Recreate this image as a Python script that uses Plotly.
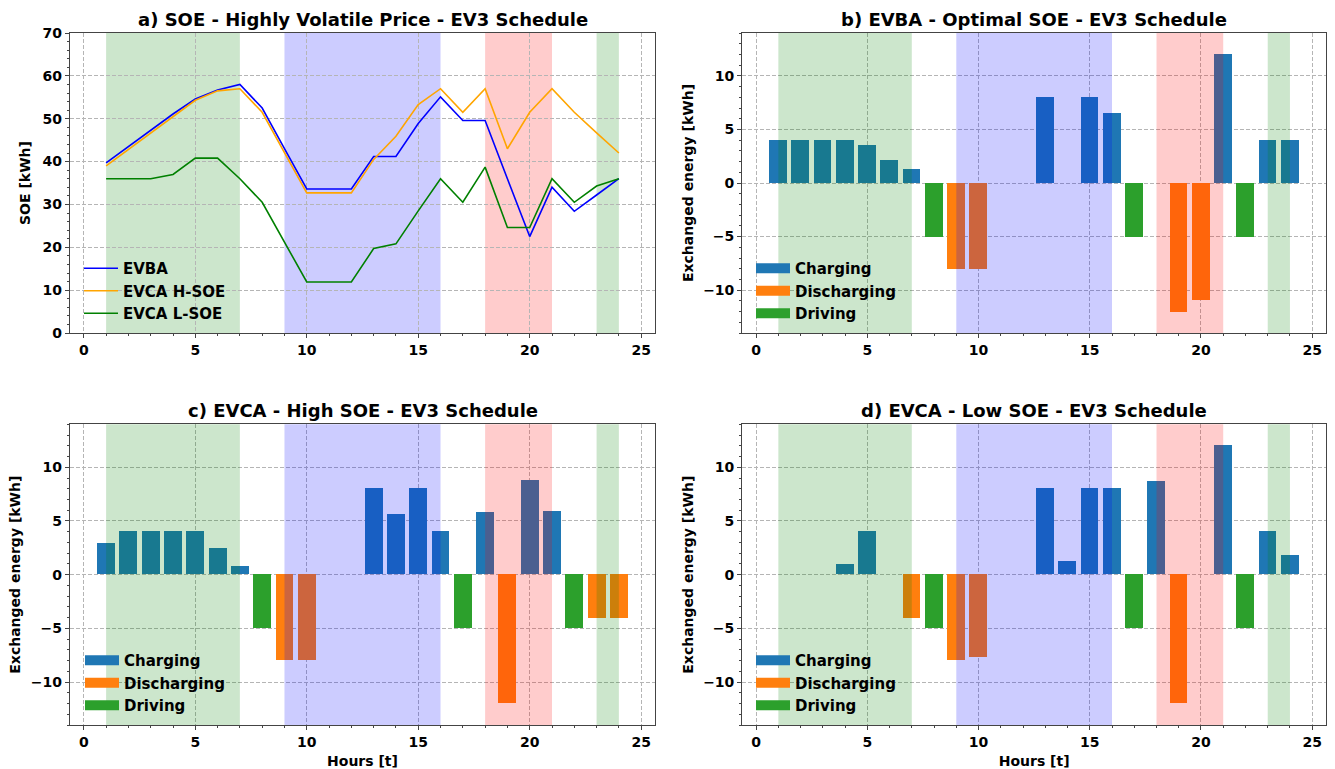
import plotly.graph_objects as go

# ---------------- data ----------------
hours = list(range(1, 25))

evba_soe = [39.7, 43.5, 47.3, 51.1, 54.6, 56.7, 58.0, 52.5, 43.0, 33.6, 33.6, 33.6,
            41.2, 41.2, 48.9, 55.1, 49.6, 49.6, 36.0, 22.5, 34.0, 28.4, 32.2, 36.0]
evca_h_soe = [39.0, 42.8, 46.6, 50.3, 54.3, 56.5, 57.0, 51.5, 42.1, 32.7, 32.7, 32.7,
              40.5, 45.9, 53.3, 57.0, 51.5, 57.0, 43.0, 51.5, 57.0, 51.5, 46.7, 42.0]
evca_l_soe = [36.0, 36.0, 36.0, 37.0, 40.8, 40.8, 36.0, 30.5, 21.2, 11.9, 11.9, 11.9,
              19.7, 20.8, 28.5, 36.0, 30.5, 38.7, 24.6, 24.6, 36.0, 30.5, 34.3, 36.0]

driving = [0, 0, 0, 0, 0, 0, 0, -5, 0, 0, 0, 0,
           0, 0, 0, 0, -5, 0, 0, 0, 0, -5, 0, 0]

b_charging = [4, 4, 4, 4, 3.55, 2.17, 1.33, 0, 0, 0, 0, 0,
              8, 0, 8, 6.55, 0, 0, 0, 0, 12.05, 0, 4, 4]
b_discharging = [0, 0, 0, 0, 0, 0, 0, 0, -8, -8, 0, 0,
                 0, 0, 0, 0, 0, 0, -12.05, -10.95, 0, 0, 0, 0]

c_charging = [2.95, 4, 4, 4, 4, 2.41, 0.74, 0, 0, 0, 0, 0,
              8, 5.63, 8, 4, 0, 5.85, 0, 8.8, 5.94, 0, 0, 0]
c_discharging = [0, 0, 0, 0, 0, 0, 0, 0, -8, -8, 0, 0,
                 0, 0, 0, 0, 0, 0, -12, 0, 0, 0, -4.05, -4.05]

d_charging = [0, 0, 0, 0.93, 4, 0, 0, 0, 0, 0, 0, 0,
              8, 1.27, 8, 8, 0, 8.73, 0, 0, 12, 0, 4, 1.83]
d_discharging = [0, 0, 0, 0, 0, 0, -4.05, 0, -8, -7.68, 0, 0,
                 0, 0, 0, 0, 0, 0, -12, 0, 0, 0, 0, 0]

shade_start = [1, 9, 18, 23]
shade_end = [7, 16, 21, 24]
shade_colors = ["rgba(0,128,0,0.2)", "rgba(0,0,255,0.2)", "rgba(255,0,0,0.2)", "rgba(0,128,0,0.2)"]

titles = ["a) SOE - Highly Volatile Price - EV3 Schedule",
          "b) EVBA - Optimal SOE - EV3 Schedule",
          "c) EVCA - High SOE - EV3 Schedule",
          "d) EVCA - Low SOE - EV3 Schedule"]

C_CH, C_DIS, C_DRV = "#1f77b4", "#ff7f0e", "#2ca02c"
FONT = "DejaVu Sans"

# ---------------- figure ----------------
fig = go.Figure()

# panel a lines
for name, vals, col in [("EVBA", evba_soe, "blue"),
                        ("EVCA H-SOE", evca_h_soe, "orange"),
                        ("EVCA L-SOE", evca_l_soe, "green")]:
    fig.add_trace(go.Scatter(x=hours, y=vals, mode="lines", name=name,
                             line=dict(color=col, width=1.6),
                             xaxis="x", yaxis="y", legend="legend"))

panels = [("2", b_charging, b_discharging), ("3", c_charging, c_discharging),
          ("4", d_charging, d_discharging)]
for idx, ch, dis in panels:
    for name, vals, col in [("Charging", ch, C_CH), ("Discharging", dis, C_DIS),
                            ("Driving", driving, C_DRV)]:
        fig.add_trace(go.Bar(x=hours, y=vals, width=0.8, marker=dict(color=col, line=dict(width=0)),
                             name=name, showlegend=False,
                             xaxis="x" + idx, yaxis="y" + idx))
    # legend proxies (wide patches)
    for name, col in [("Charging", C_CH), ("Discharging", C_DIS), ("Driving", C_DRV)]:
        fig.add_trace(go.Scatter(x=[None], y=[None], mode="lines", name=name,
                                 line=dict(color=col, width=12),
                                 xaxis="x" + idx, yaxis="y" + idx, legend="legend" + idx))

# ---------------- layout ----------------
W, H = 1335, 769
ML, MR, MT, MB = 70, 9, 33, 44
PW, PH = W - ML - MR, H - MT - MB

def px_x(p):
    return (p - ML) / PW

def px_y(p):
    return 1 - (p - MT) / PH

dom_x_left = [0, px_x(655)]
dom_x_right = [px_x(742.3), 1.0]
dom_y_top = [px_y(333), 1.0]
dom_y_bot = [0.0, px_y(424.3)]

tickfont = dict(family=FONT, size=14, color="black", weight="bold")
titlefont = dict(family=FONT, size=14, color="black", weight="bold")
GRID = dict(showgrid=True, gridcolor="#b5b5b5", griddash="4px,2px", gridwidth=0.8)

def xax(domain, anchor, show_title):
    d = dict(domain=domain, anchor=anchor, range=[-0.62, 25.62], dtick=5, tick0=0,
             automargin=False,
             showline=True, linecolor="#444", linewidth=1.3, mirror=True,
             ticks="outside", ticklen=4, tickwidth=1.1, tickcolor="#444",
             zeroline=False, tickfont=tickfont,
             minor=dict(ticks="outside", ticklen=2, dtick=1, tick0=0, tickcolor="#444",
                        tickwidth=0.8, showgrid=False), **GRID)
    if show_title:
        d["title"] = dict(text="Hours [t]", font=titlefont, standoff=7)
    return d

def yax(domain, anchor, rng, tickvals, minor_dtick, title, standoff):
    return dict(domain=domain, anchor=anchor, range=rng, tickvals=tickvals,
                automargin=False,
                showline=True, linecolor="#444", linewidth=1.3, mirror=True,
                ticks="outside", ticklen=4, tickwidth=1.1, tickcolor="#444",
                zeroline=False, tickfont=tickfont,
                title=dict(text=title, font=titlefont, standoff=standoff),
                minor=dict(ticks="outside", ticklen=2, dtick=minor_dtick, tick0=0,
                           tickcolor="#444", tickwidth=0.8, showgrid=False), **GRID)

ex_ticks = [-10, -5, 0, 5, 10]
layout = dict(
    width=W, height=H,
    margin=dict(l=ML, r=MR, t=MT, b=MB, autoexpand=False),
    paper_bgcolor="white", plot_bgcolor="white",
    barmode="overlay", bargap=0,
    font=dict(family=FONT, color="black"),
    xaxis=xax(dom_x_left, "y", False),
    yaxis=yax(dom_y_top, "x", [0, 70], [0, 10, 20, 30, 40, 50, 60, 70], 2, "SOE [kWh]", 8),
    xaxis2=xax(dom_x_right, "y2", False),
    yaxis2=yax(dom_y_top, "x2", [-14, 14], ex_ticks, 1, "Exchanged energy [kWh]", 6),
    xaxis3=xax(dom_x_left, "y3", True),
    yaxis3=yax(dom_y_bot, "x3", [-14, 14], ex_ticks, 1, "Exchanged energy [kWh]", 6),
    xaxis4=xax(dom_x_right, "y4", True),
    yaxis4=yax(dom_y_bot, "x4", [-14, 14], ex_ticks, 1, "Exchanged energy [kWh]", 6),
)

legend_font = dict(family=FONT, size=15, color="black", weight="bold")
def leg(xp, ytop_px):
    return dict(x=px_x(xp), y=px_y(ytop_px), xanchor="left", yanchor="top",
                bgcolor="rgba(0,0,0,0)", borderwidth=0, font=legend_font,
                itemwidth=34, tracegroupgap=0)

layout["legend"] = leg(79, 252)
layout["legend2"] = leg(751, 252)
layout["legend3"] = leg(80, 644)
layout["legend4"] = leg(751, 644)

fig.update_layout(**layout)

# shaded periods
axes_ids = [("x", "y", "below"), ("x2", "y2", "above"), ("x3", "y3", "above"), ("x4", "y4", "above")]
for xr, yr, lyr in axes_ids:
    dom = dom_y_top if yr in ("y", "y2") else dom_y_bot
    for s, e, c in zip(shade_start, shade_end, shade_colors):
        fig.add_shape(type="rect", xref=xr, yref="paper",
                      x0=s, x1=e, y0=dom[0], y1=dom[1],
                      fillcolor=c, line=dict(width=0), layer=lyr)

# panel titles
for (xr, yr), t in zip([("x", "y"), ("x2", "y2"), ("x3", "y3"), ("x4", "y4")], titles):
    fig.add_annotation(text="<b>" + t + "</b>", xref=xr + " domain", yref=yr + " domain",
                       x=0.5, y=1, xanchor="center", yanchor="middle", yshift=14,
                       showarrow=False, font=dict(family=FONT, size=18, color="black"))

fig.write_html("out.html", config={"displayModeBar": False},
               post_script="document.body.style.margin='0';document.body.style.padding='0';")
